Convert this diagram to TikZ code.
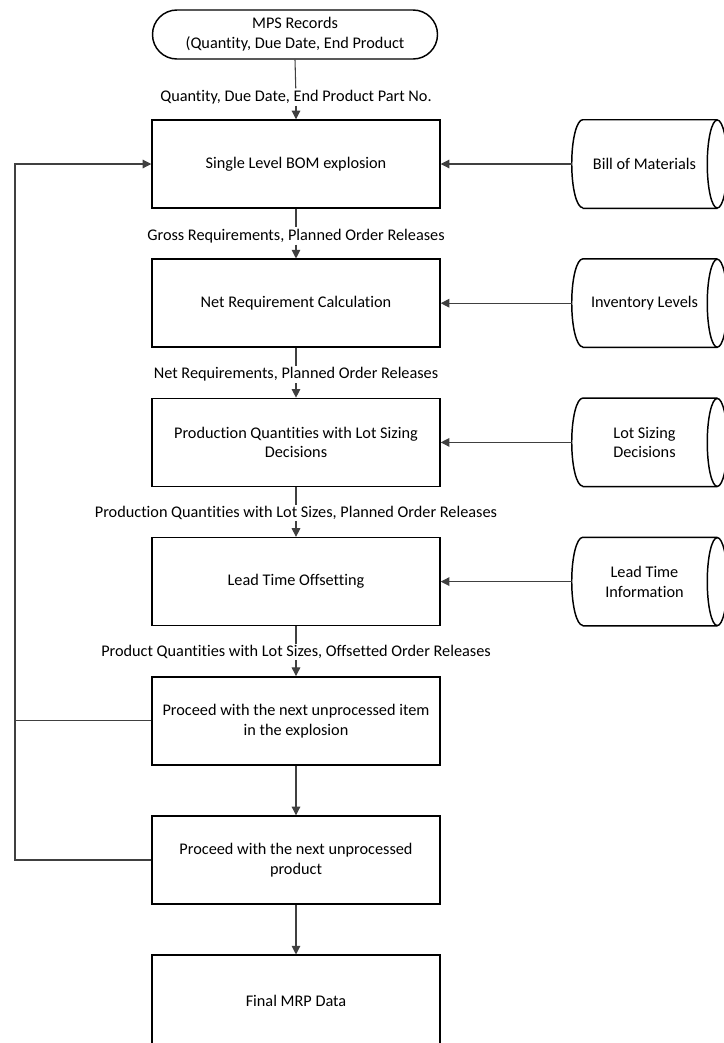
\documentclass[tikz,border=0pt]{standalone}
\usepackage{fontspec}
\setmainfont{Carlito}[Ligatures=NoCommon]
\usetikzlibrary{arrows.meta,calc}

% outline of a horizontal drum (stored data) around a named node
\newcommand{\drumoutline}[1]{%
  \draw[drumline] ($(#1.south west)+(11,0)$) -- (#1.south east)
    (#1.north east) -- ($(#1.north west)+(11,0)$)
    arc[start angle=90,end angle=270,x radius=8.25pt,y radius=33pt];
  \draw[drumline] (#1.east) ellipse[x radius=7.5pt,y radius=33pt];
}

\begin{document}
\begin{tikzpicture}[x=0.75pt,y=-0.75pt,
  font=\fontsize{12.2}{14.8}\selectfont,
  procbox/.style={draw,line width=1.1pt,minimum width=216pt,minimum height=66pt,
    align=center,inner sep=0pt},
  termbox/.style={draw,line width=1.1pt,rounded corners=18.3pt,minimum width=213.75pt,
    minimum height=36.75pt,align=center,inner sep=0pt},
  drum/.style={minimum width=108.75pt,minimum height=66pt,align=center,inner sep=0pt},
  drumline/.style={line width=1.1pt},
  flowlabel/.style={fill=white,inner sep=1pt},
  conn/.style={line width=0.8pt,draw=black!75},
  arrowconn/.style={conn,-{Triangle[length=6.5pt,width=6.5pt]}},
]
\useasboundingbox (0,0) rectangle (724,1043);

% start terminal
\node[termbox] (mps) at (295,34.5) {\raisebox{-1.5pt}{\parbox{200pt}{\centering MPS Records\\(Quantity, Due Date, End Product}}};

% process column
\node[procbox] (bom)   at (296,164)   {Single Level BOM explosion};
\node[procbox] (net)   at (296,303.2) {Net Requirement Calculation};
\node[procbox] (lot)   at (296,442.4) {Production Quantities with Lot Sizing\\Decisions};
\node[procbox] (lead)  at (296,581.6) {Lead Time Offsetting};
\node[procbox] (item)  at (296,720.8) {Proceed with the next unprocessed item\\in the explosion};
\node[procbox] (prod)  at (296,860)   {Proceed with the next unprocessed\\product};
\node[procbox,minimum height=69pt] (final) at (296,1001.2) {Final MRP Data};

% flow labels
\node[flowlabel] (l1) at (296,97)  {Quantity, Due Date, End Product Part No.};
\node[flowlabel] (l2) at (296,236) {Gross Requirements, Planned Order Releases};
\node[flowlabel] (l3) at (296,374.5) {Net Requirements, Planned Order Releases};
\node[flowlabel] (l4) at (296,513) {Production Quantities with Lot Sizes, Planned Order Releases};
\node[flowlabel] (l5) at (296,652) {Product Quantities with Lot Sizes, Offsetted Order Releases};

% data stores
\node[drum] (bomdata)  at (644.5,164)   {Bill of Materials};
\node[drum] (invdata)  at (644.5,303.2) {Inventory Levels};
\node[drum] (lotdata)  at (644.5,442.4) {Lot Sizing\\Decisions};
\node[drum] (leaddata) at (644.5,581.6) {Lead Time\\Information};
\drumoutline{bomdata}
\drumoutline{invdata}
\drumoutline{lotdata}
\drumoutline{leaddata}

% main flow
\draw[conn] (mps.south) -- (l1);
\draw[arrowconn] (l1) -- (bom.north);
\draw[conn] (bom.south) -- (l2);
\draw[arrowconn] (l2) -- (net.north);
\draw[conn] (net.south) -- (l3);
\draw[arrowconn] (l3) -- (lot.north);
\draw[conn] (lot.south) -- (l4);
\draw[arrowconn] (l4) -- (lead.north);
\draw[conn] (lead.south) -- (l5);
\draw[arrowconn] (l5) -- (item.north);
\draw[arrowconn] (item.south) -- (prod.north);
\draw[arrowconn] (prod.south) -- (final.north);

% data inputs
\draw[arrowconn] (bomdata.west) -- (bom.east);
\draw[arrowconn] (invdata.west) -- (net.east);
\draw[arrowconn] (lotdata.west) -- (lot.east);
\draw[arrowconn] (leaddata.west) -- (lead.east);

% loops back to the explosion
\coordinate (loopitem) at (15,720.8);
\coordinate (loopprod) at (15,860);
\draw[conn] (item.west) -- (loopitem);
\draw[arrowconn] (prod.west) -- (loopprod) |- (bom.west);
\end{tikzpicture}
\end{document}
